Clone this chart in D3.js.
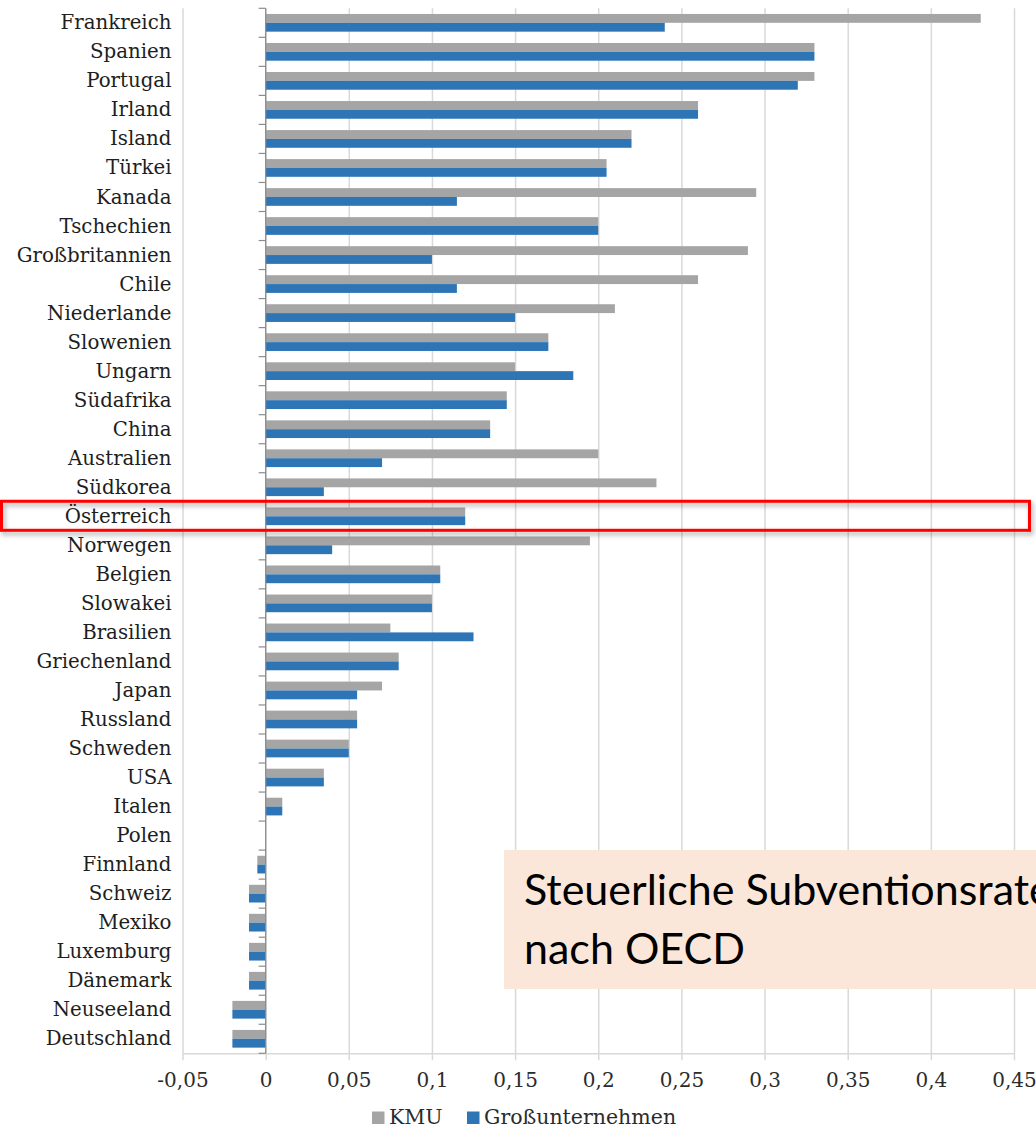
<!DOCTYPE html>
<html>
<head>
<meta charset="utf-8">
<script src="https://cdn.jsdelivr.net/npm/d3@7"></script>
<style>
  body { margin: 0; background: #fff; }
  svg { display: block; }
</style>
</head>
<body>
<svg id="chart" width="1036" height="1131"></svg>
<script>
// Steuerliche Subventionsrate, KMU vs. Großunternehmen
var countries = ["Frankreich", "Spanien", "Portugal", "Irland", "Island", "Türkei", "Kanada",
  "Tschechien", "Großbritannien", "Chile", "Niederlande", "Slowenien", "Ungarn", "Südafrika",
  "China", "Australien", "Südkorea", "Österreich", "Norwegen", "Belgien", "Slowakei",
  "Brasilien", "Griechenland", "Japan", "Russland", "Schweden", "USA", "Italen", "Polen",
  "Finnland", "Schweiz", "Mexiko", "Luxemburg", "Dänemark", "Neuseeland", "Deutschland"]

var kmu = [0.43, 0.33, 0.33, 0.26, 0.22, 0.205, 0.295, 0.2, 0.29, 0.26, 0.21, 0.17, 0.15, 0.145,
  0.135, 0.2, 0.235, 0.12, 0.195, 0.105, 0.1, 0.075, 0.08, 0.07, 0.055, 0.05, 0.035, 0.01, 0,
  -0.005, -0.01, -0.01, -0.01, -0.01, -0.02, -0.02]

var gross = [0.24, 0.33, 0.32, 0.26, 0.22, 0.205, 0.115, 0.2, 0.1, 0.115, 0.15, 0.17, 0.185, 0.145,
  0.135, 0.07, 0.035, 0.12, 0.04, 0.105, 0.1, 0.125, 0.08, 0.055, 0.055, 0.05, 0.035, 0.01, 0,
  -0.005, -0.01, -0.01, -0.01, -0.01, -0.02, -0.02]

var seriesNames = ["KMU", "Großunternehmen"]
var seriesColors = ["#a5a5a5", "#2e75b6"]
var xDomain = [-0.05, 0.45]
var highlight = "Österreich"
var boxLines = ["Steuerliche Subventionsrate", "nach OECD"]

var svg = d3.select("#chart")
var plotLeft = 182.5, plotRight = 1014, plotTop = 8.3, plotBottom = 1053.3
var serif = "'DejaVu Serif', serif"

var x = d3.scaleLinear().domain(xDomain).range([plotLeft, plotRight])
var y = d3.scaleBand().domain(countries).range([plotTop, plotBottom]).padding(0)
var ySub = d3.scaleBand().domain(seriesNames).range([0, y.bandwidth()])
  .paddingInner(0).paddingOuter(0.64)

var de = d3.formatLocale({ decimal: ",", thousands: ".", grouping: [3], currency: ["", " €"], minus: "-" })
var fmt = de.format("~g")

// vertical gridlines + tick labels
var xAxis = svg.append("g")
  .attr("transform", "translate(0," + plotBottom + ")")
  .call(d3.axisBottom(x).ticks(10).tickFormat(fmt).tickSizeOuter(0))
xAxis.select(".domain").attr("stroke", "#d9d9d9").attr("stroke-width", 1.5)
xAxis.selectAll(".tick line")
  .attr("y1", 7).attr("y2", -(plotBottom - plotTop))
  .attr("stroke", "#d9d9d9").attr("stroke-width", 1.5)
xAxis.selectAll(".tick text")
  .attr("y", 34).attr("dy", null)
  .attr("fill", "#2b2b2b").style("font-family", serif).style("font-size", "20px")

// bars
var rows = countries.map(function(c, i) { return { name: c, values: [kmu[i], gross[i]] } })
var groups = svg.append("g").selectAll("g")
  .data(rows).enter().append("g")
  .attr("transform", (d) => "translate(0," + y(d.name) + ")")
groups.selectAll("rect")
  .data((d) => d.values.map((v, k) => ({ key: seriesNames[k], v: v, k: k })))
  .enter().append("rect")
  .attr("x", (d) => x(Math.min(0, d.v)))
  .attr("width", (d) => Math.abs(x(d.v) - x(0)))
  .attr("y", (d) => ySub(d.key))
  .attr("height", ySub.bandwidth())
  .attr("fill", (d) => seriesColors[d.k])

// category axis at value 0, ticks between categories
var catAxis = svg.append("g")
catAxis.append("line")
  .attr("x1", x(0)).attr("x2", x(0))
  .attr("y1", plotTop).attr("y2", plotBottom)
  .attr("stroke", "#8c8c8c").attr("stroke-width", 1.2)
catAxis.selectAll(".ctick")
  .data(d3.range(countries.length + 1))
  .enter().append("line")
  .attr("class", "ctick")
  .attr("x1", x(0) - 7).attr("x2", x(0))
  .attr("y1", (i) => plotTop + i * y.step())
  .attr("y2", (i) => plotTop + i * y.step())
  .attr("stroke", "#8c8c8c").attr("stroke-width", 1.2)

// category labels
var yAxis = svg.append("g")
  .attr("transform", "translate(" + plotLeft + ",0)")
  .call(d3.axisLeft(y).tickSize(0).tickPadding(11))
yAxis.select(".domain").remove()
yAxis.selectAll(".tick text")
  .attr("dy", "0.33em")
  .attr("fill", "#1e1e1e").style("font-family", serif).style("font-size", "19.8px")

// legend
var legend = svg.append("g").attr("transform", "translate(372,1111.5)")
var legendX = [0, 95]
seriesNames.forEach(function(name, k) {
  var g = legend.append("g").attr("transform", "translate(" + legendX[k] + ",0)")
  g.append("rect").attr("width", 12.5).attr("height", 12.5).attr("fill", seriesColors[k])
  g.append("text").attr("x", 17).attr("y", 12.5)
    .attr("fill", "#2b2b2b").style("font-family", serif).style("font-size", "20.5px")
    .text(name)
})

// highlight box for Österreich
var defs = svg.append("defs")
var shadow = defs.append("filter").attr("id", "shadow")
  .attr("x", "-5%").attr("y", "-50%").attr("width", "110%").attr("height", "200%")
shadow.append("feDropShadow").attr("dx", 2).attr("dy", 3)
  .attr("stdDeviation", 2.5).attr("flood-color", "#000").attr("flood-opacity", 0.35)
svg.append("rect")
  .attr("x", 1.5).attr("y", y(highlight) - 0.5)
  .attr("width", 1028).attr("height", y.bandwidth())
  .attr("fill", "none").attr("stroke", "#ff0000").attr("stroke-width", 3)
  .attr("filter", "url(#shadow)")

// annotation box
var note = svg.append("g").attr("transform", "translate(504,850)")
note.append("rect").attr("width", 560).attr("height", 139).attr("fill", "#fbe7d9")
note.selectAll("text")
  .data(boxLines).enter().append("text")
  .attr("x", 20)
  .attr("y", (d, i) => 55 + i * 59)
  .attr("fill", "#000")
  .style("font-family", "Lato, 'Open Sans', sans-serif")
  .style("font-size", "43px")
  .text((d) => d)
</script>
</body>
</html>
